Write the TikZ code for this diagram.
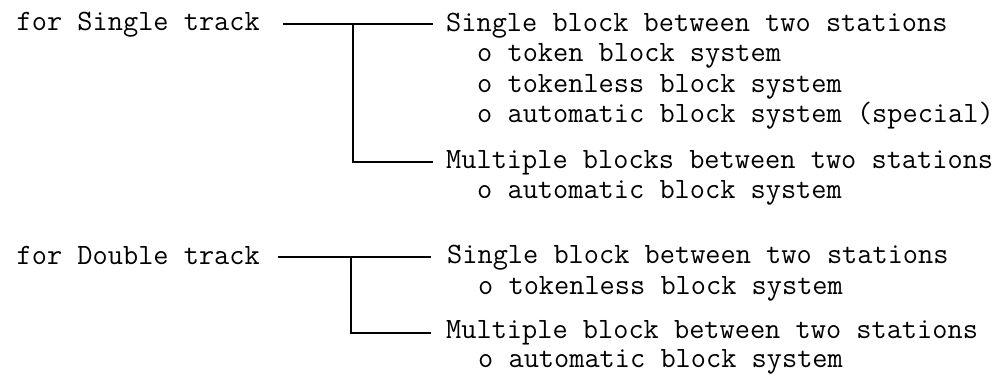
\documentclass[tikz,border=0pt]{standalone}
\usepackage{fontspec}
\usepackage{tikz}
\usetikzlibrary{positioning}

\tikzset{
	txt/.style={anchor=base west, inner sep=0pt, font=\ttfamily\fontsize{29.5}{34}\selectfont},
	lft/.style={txt, anchor=base east},
	link/.style={line width=1.6pt, black}
}

\begin{document}
\begin{tikzpicture}[x=1pt, y=-1pt, every node/.style={scale=1}]
	\useasboundingbox (0,0) rectangle (1006,377);

	%%%% single track
	\node[lft] (forSingle) at (260,31) {for Single track};

	\node[txt] (sSingle) at (446,32) {Single block between two stations};
	\node[txt] (oToken) at (477,62) {o token block system};
	\node[txt] (oTokenless) at (477,93) {o tokenless block system};
	\node[txt] (oSpecial) at (477,123) {o automatic block system (special)};

	\node[txt] (mSingle) at (446,168) {Multiple blocks between two stations};
	\node[txt] (oAutoS) at (477,198) {o automatic block system};

	\coordinate (jSingle) at (353,24);
	\draw[link] ([xshift=23pt]forSingle.base east |- jSingle) -- ([xshift=-13pt]sSingle.base west |- jSingle);
	\draw[link] (jSingle) |- ([xshift=-13pt,yshift=6pt]mSingle.base west);
	%%%%%%

	%%%% double track
	\node[lft] (forDouble) at (260,264) {for Double track};

	\node[txt] (sDouble) at (447,263) {Single block between two stations};
	\node[txt] (oTokenlessD) at (478,294) {o tokenless block system};

	\node[txt] (mDouble) at (446,338) {Multiple block between two stations};
	\node[txt] (oAutoD) at (478,367) {o automatic block system};

	\coordinate (jDouble) at (351,257);
	\draw[link] ([xshift=18pt]forDouble.base east |- jDouble) -- ([xshift=-16pt]sDouble.base west |- jDouble);
	\draw[link] (jDouble) |- ([xshift=-15pt,yshift=5pt]mDouble.base west);
	%%%%%%
\end{tikzpicture}
\end{document}
